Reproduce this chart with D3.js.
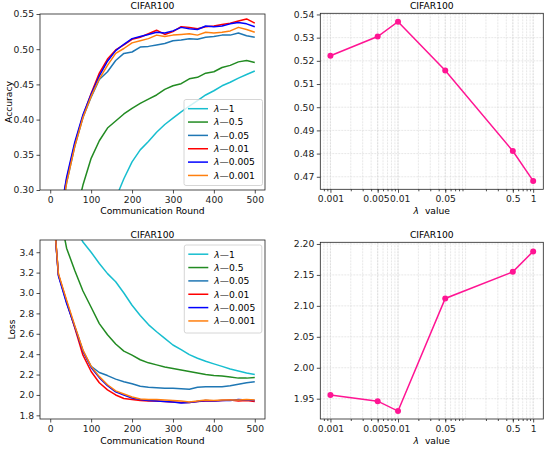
<!doctype html>
<html>
<head>
<script src="https://d3js.org/d3.v7.min.js"></script>
<style>body { margin: 0; background: #fff; }</style>
</head>
<body>
<svg width="550" height="450"></svg>
<script>
// communication rounds at which the curves were read
var rounds = [0, 20, 40, 60, 80, 100, 120, 140, 160, 180, 200, 220, 240, 260, 280, 300, 320, 340, 360, 380, 400, 420, 440, 460, 480, 500]

// accuracy curves
var acc_1     = [0.02, 0.04, 0.07, 0.10, 0.14, 0.18, 0.22, 0.255, 0.288, 0.316, 0.340, 0.357, 0.369, 0.382, 0.393, 0.402, 0.411, 0.419, 0.427, 0.435, 0.441, 0.448, 0.453, 0.459, 0.464, 0.469]
var acc_05    = [0.05, 0.12, 0.20, 0.26, 0.307, 0.345, 0.370, 0.388, 0.398, 0.408, 0.416, 0.423, 0.429, 0.435, 0.443, 0.448, 0.451, 0.458, 0.460, 0.466, 0.468, 0.474, 0.477, 0.482, 0.484, 0.481]
var acc_005   = [0.14, 0.24, 0.31, 0.362, 0.403, 0.432, 0.457, 0.468, 0.484, 0.494, 0.496, 0.503, 0.504, 0.506, 0.508, 0.512, 0.513, 0.515, 0.514, 0.517, 0.518, 0.520, 0.520, 0.523, 0.519, 0.517]
var acc_001   = [0.15, 0.25, 0.315, 0.365, 0.405, 0.437, 0.466, 0.486, 0.499, 0.506, 0.514, 0.517, 0.522, 0.527, 0.521, 0.525, 0.532, 0.531, 0.529, 0.532, 0.533, 0.535, 0.537, 0.540, 0.543, 0.537]
var acc_0005  = [0.15, 0.25, 0.318, 0.368, 0.407, 0.436, 0.462, 0.483, 0.498, 0.507, 0.515, 0.518, 0.521, 0.524, 0.523, 0.526, 0.531, 0.529, 0.528, 0.533, 0.532, 0.533, 0.536, 0.538, 0.536, 0.532]
var acc_0001  = [0.14, 0.24, 0.31, 0.362, 0.403, 0.433, 0.458, 0.477, 0.494, 0.501, 0.509, 0.512, 0.515, 0.520, 0.518, 0.520, 0.521, 0.522, 0.520, 0.524, 0.523, 0.524, 0.526, 0.531, 0.528, 0.524]

// loss curves
var loss_1    = [5.0, 4.4, 3.95, 3.65, 3.50, 3.40, 3.29, 3.19, 3.11, 3.00, 2.88, 2.78, 2.69, 2.62, 2.555, 2.49, 2.445, 2.395, 2.36, 2.33, 2.305, 2.28, 2.255, 2.235, 2.215, 2.20]
var loss_05   = [4.6, 3.85, 3.44, 3.22, 3.02, 2.86, 2.70, 2.59, 2.50, 2.43, 2.39, 2.345, 2.315, 2.295, 2.275, 2.26, 2.245, 2.23, 2.215, 2.20, 2.19, 2.185, 2.175, 2.165, 2.165, 2.17]
var loss_005  = [4.2, 3.18, 2.91, 2.67, 2.43, 2.28, 2.22, 2.19, 2.155, 2.13, 2.11, 2.085, 2.075, 2.07, 2.065, 2.065, 2.06, 2.055, 2.075, 2.08, 2.08, 2.08, 2.09, 2.105, 2.12, 2.13]
var loss_001  = [4.2, 3.18, 2.92, 2.66, 2.39, 2.23, 2.12, 2.05, 2.00, 1.965, 1.955, 1.945, 1.94, 1.94, 1.935, 1.93, 1.925, 1.925, 1.935, 1.94, 1.94, 1.945, 1.95, 1.94, 1.945, 1.935]
var loss_0005 = [4.2, 3.17, 2.90, 2.67, 2.43, 2.27, 2.17, 2.09, 2.03, 2.00, 1.97, 1.955, 1.945, 1.94, 1.935, 1.93, 1.92, 1.925, 1.935, 1.945, 1.94, 1.945, 1.945, 1.955, 1.95, 1.945]
var loss_0001 = [4.2, 3.19, 2.93, 2.68, 2.44, 2.28, 2.18, 2.10, 2.04, 2.01, 1.98, 1.96, 1.955, 1.955, 1.95, 1.945, 1.94, 1.93, 1.94, 1.95, 1.945, 1.95, 1.95, 1.95, 1.955, 1.95]

var series_names = ["1", "0.5", "0.05", "0.01", "0.005", "0.001"]
var series_colors = ["#17becf", "#228b22", "#1f77b4", "#ff0000", "#0000ff", "#ff7f0e"]

// final values per lambda
var lambdas = [0.001, 0.005, 0.01, 0.05, 0.5, 1]
var lambda_labels = ["0.001", "0.005", "0.01", "0.05", "0.5", "1"]
var final_acc = [0.5222, 0.5305, 0.5369, 0.5158, 0.4811, 0.4682]
var final_loss = [1.956, 1.946, 1.930, 2.112, 2.155, 2.188]

var acc_ticks = [0.30, 0.35, 0.40, 0.45, 0.50, 0.55]
var loss_ticks = [1.8, 2.0, 2.2, 2.4, 2.6, 2.8, 3.0, 3.2, 3.4]
var round_ticks = [0, 100, 200, 300, 400, 500]
var facc_ticks = [0.47, 0.48, 0.49, 0.50, 0.51, 0.52, 0.53, 0.54]
var floss_ticks = [1.95, 2.00, 2.05, 2.10, 2.15, 2.20]

var svg = d3.select("svg")
var font = "DejaVu Sans, sans-serif"
var fs = 9.2
var clip_id = 0

function frame(g, box) {
    g.append("rect")
        .attr("x", box.x0).attr("y", box.y0)
        .attr("width", box.x1 - box.x0).attr("height", box.y1 - box.y0)
        .attr("fill", "none").attr("stroke", "#222").attr("stroke-width", 0.8)
}

function style_axis(sel) {
    sel.select(".domain").remove()
    sel.selectAll("text").attr("font-family", font).attr("font-size", fs).attr("fill", "#222")
    sel.selectAll("line").attr("stroke", "#222").attr("stroke-width", 0.8)
}

function title(g, box, y) {
    g.append("text")
        .attr("x", (box.x0 + box.x1) / 2).attr("y", y)
        .attr("text-anchor", "middle").attr("font-family", font).attr("font-size", fs)
        .text("CIFAR100")
}

function lambda_text(sel, rest) {
    sel.append("tspan").attr("font-style", "italic").text("λ")
    sel.append("tspan").text(rest)
}

function curve_panel(box, ydom, yticks, yfmt, series, ylabel, ylab_x, xlab_y, legend, title_y) {
    var g = svg.append("g")
    var x = d3.scaleLinear().domain([-25, 525]).range([box.x0, box.x1])
    var y = d3.scaleLinear().domain(ydom).range([box.y1, box.y0])

    var id = "clip" + (clip_id++)
    g.append("clipPath").attr("id", id).append("rect")
        .attr("x", box.x0).attr("y", box.y0)
        .attr("width", box.x1 - box.x0).attr("height", box.y1 - box.y0)

    var line = d3.line()
        .x(function(d, i) { return x(rounds[i]) })
        .y(function(d) { return y(d) })
    var lines = g.append("g").attr("clip-path", "url(#" + id + ")")
    series.forEach(function(s, k) {
        lines.append("path")
            .datum(s)
            .attr("d", line)
            .attr("fill", "none")
            .attr("stroke", series_colors[k])
            .attr("stroke-width", 1.5)
            .attr("stroke-linejoin", "round")
    })

    g.append("g").attr("transform", "translate(0," + box.y1 + ")")
        .call(d3.axisBottom(x).tickValues(round_ticks).tickSize(3.5).tickPadding(2.5))
        .call(style_axis)
    g.append("g").attr("transform", "translate(" + box.x0 + ",0)")
        .call(d3.axisLeft(y).tickValues(yticks).tickFormat(d3.format(yfmt)).tickSize(3.5).tickPadding(2.5))
        .call(style_axis)
    frame(g, box)
    title(g, box, title_y)

    g.append("text")
        .attr("x", (box.x0 + box.x1) / 2).attr("y", xlab_y)
        .attr("text-anchor", "middle").attr("font-family", font).attr("font-size", fs)
        .text("Communication Round")
    g.append("text")
        .attr("transform", "translate(" + ylab_x + "," + (box.y0 + box.y1) / 2 + ") rotate(-90)")
        .attr("text-anchor", "middle").attr("font-family", font).attr("font-size", fs)
        .text(ylabel)

    // legend
    var lg = g.append("g")
    lg.append("rect")
        .attr("x", legend.x).attr("y", legend.y)
        .attr("width", legend.w).attr("height", legend.h)
        .attr("rx", 2).attr("fill", "#fff").attr("fill-opacity", 0.8)
        .attr("stroke", "#ccc").attr("stroke-width", 0.8)
    series_names.forEach(function(name, k) {
        var cy = legend.y + 9.2 + k * 13.35
        lg.append("line")
            .attr("x1", legend.x + 4).attr("x2", legend.x + 24)
            .attr("y1", cy).attr("y2", cy)
            .attr("stroke", series_colors[k]).attr("stroke-width", 1.5)
        lg.append("text")
            .attr("x", legend.x + 30).attr("y", cy + 3.3)
            .attr("font-family", font).attr("font-size", fs)
            .call(lambda_text, "\u2014" + name)
    })
}

function lambda_panel(box, ydom, yticks, yfmt, values, xlab_y, title_y) {
    var g = svg.append("g")
    var x = d3.scaleLog().domain([Math.pow(10, -3.15), Math.pow(10, 0.15)]).range([box.x0, box.x1])
    var y = d3.scaleLinear().domain(ydom).range([box.y1, box.y0])

    var minor = []
    for (var e = -4; e <= 0; e++) {
        for (var m = 2; m <= 9; m++) {
            var v = m * Math.pow(10, e)
            if (v > x.domain()[0] && v < x.domain()[1]) minor.push(v)
        }
    }
    var decades = [0.001, 0.01, 0.1, 1]
    var grid = g.append("g")
        .attr("stroke", "#d6d6d6").attr("stroke-width", 0.6).attr("stroke-dasharray", "2,1")
    minor.concat(decades, lambdas).forEach(function(v) {
        grid.append("line")
            .attr("x1", x(v)).attr("x2", x(v))
            .attr("y1", box.y0).attr("y2", box.y1)
    })
    yticks.forEach(function(v) {
        grid.append("line")
            .attr("x1", box.x0).attr("x2", box.x1)
            .attr("y1", y(v)).attr("y2", y(v))
    })

    var line = d3.line()
        .x(function(d, i) { return x(lambdas[i]) })
        .y(function(d) { return y(d) })
    g.append("path")
        .datum(values)
        .attr("d", line)
        .attr("fill", "none").attr("stroke", "#ff1493").attr("stroke-width", 1.5)
    g.selectAll(".dot")
        .data(values)
        .enter().append("circle")
        .attr("cx", function(d, i) { return x(lambdas[i]) })
        .attr("cy", function(d) { return y(d) })
        .attr("r", 3)
        .attr("fill", "#ff1493")

    g.append("g").attr("transform", "translate(0," + box.y1 + ")")
        .call(d3.axisBottom(x).tickValues(minor).tickFormat("").tickSize(2))
        .call(style_axis)
    g.append("g").attr("transform", "translate(0," + box.y1 + ")")
        .call(d3.axisBottom(x).tickValues(lambdas).tickFormat(function(d, i) { return lambda_labels[i] })
            .tickSize(3.5).tickPadding(2.5))
        .call(style_axis)
        .selectAll("text")
        // 0.005 and 0.01 sit nearly on top of each other, as in the original: just let them touch
        .attr("dx", function(d) { return d === 0.005 ? -1.7 : d === 0.01 ? 1.7 : 0 })
    g.append("g").attr("transform", "translate(" + box.x0 + ",0)")
        .call(d3.axisLeft(y).tickValues(yticks).tickFormat(d3.format(yfmt)).tickSize(3.5).tickPadding(2.5))
        .call(style_axis)
    frame(g, box)
    title(g, box, title_y)

    g.append("text")
        .attr("x", (box.x0 + box.x1) / 2).attr("y", xlab_y)
        .attr("text-anchor", "middle").attr("font-family", font).attr("font-size", fs)
        .attr("xml:space", "preserve")
        .call(lambda_text, "  value")
}

curve_panel({x0: 40, x1: 265, y0: 14, y1: 190}, [0.30, 0.55], acc_ticks, ".2f",
    [acc_1, acc_05, acc_005, acc_001, acc_0005, acc_0001], "Accuracy", 12, 214,
    {x: 184, y: 99.5, w: 78.5, h: 86}, 9)

lambda_panel({x0: 320.3, x1: 543.3, y0: 13.3, y1: 189.3}, [0.4646, 0.5405], facc_ticks, ".2f",
    final_acc, 214, 9)

curve_panel({x0: 40, x1: 265, y0: 240, y1: 419}, [1.764, 3.52], loss_ticks, ".1f",
    [loss_1, loss_05, loss_005, loss_001, loss_0005, loss_0001], "Loss", 15, 443.5,
    {x: 184.3, y: 245, w: 77.5, h: 88}, 238)

lambda_panel({x0: 320.3, x1: 543.3, y0: 242.3, y1: 419}, [1.9172, 2.2027], floss_ticks, ".2f",
    final_loss, 443.5, 238)
</script>
</body>
</html>
